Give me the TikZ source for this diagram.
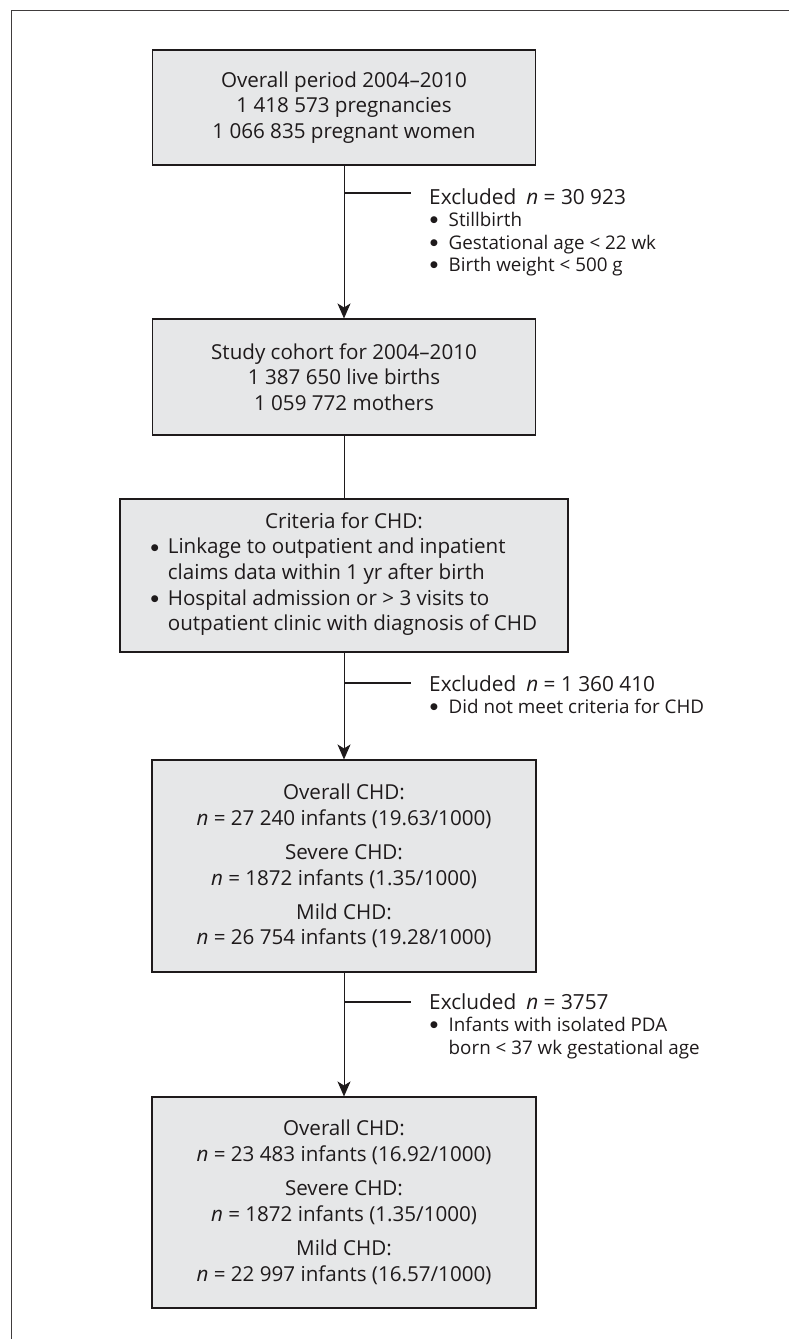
\documentclass[tikz,border=0pt]{standalone}
\usepackage{fontspec}
\setmainfont{Open Sans}
\newfontfamily\bulfont{DejaVu Sans}
\usetikzlibrary{arrows.meta,calc}
\definecolor{ink}{HTML}{1E1A1B}
\definecolor{boxfill}{HTML}{E6E7E8}
\newcommand\bul{\makebox[8pt][l]{\raisebox{3.6pt}{\bulfont\fontsize{9}{9}\selectfont ●}}}
\begin{document}
\begin{tikzpicture}[x=1pt,y=-1pt,
  box/.style={draw=ink, line width=1.1pt, fill=boxfill, text=ink, align=center, inner sep=0pt,
    font=\fontsize{20.6}{25.7}\selectfont},
  conn/.style={draw=ink, line width=1pt},
  arr/.style={conn, -{Stealth[length=15pt,width=13pt,inset=4pt]}},
  side/.style={draw=ink, line width=1.5pt},
  exhead/.style={anchor=base west, inner sep=0pt, text=ink, font=\fontsize{20.8}{25}\selectfont},
  exlist/.style={anchor=base west, inner sep=0pt, text=ink, font=\fontsize{18.8}{22.5}\selectfont}]
\useasboundingbox (0,0) rectangle (789,1339);
\draw[draw=ink!85, line width=1pt] (11,1339) -- (11,10) -- (789,10);

\node[box, minimum width=383pt, minimum height=115pt] (b1) at (344,107.5)
  {Overall period 2004–2010\\1 418 573 pregnancies\\1 066 835 pregnant women};
\node[box, minimum width=383pt, minimum height=116pt] (b2) at (344,377)
  {Study cohort for 2004–2010\\1 387 650 live births\\1 059 772 mothers};
\node[box, minimum width=448pt, minimum height=153pt] (b3) at (344,575.5)
  {Criteria for CHD:\\
   \begin{tabular}[t]{@{}l@{\hspace{9pt}}l@{}}
   \bul & Linkage to outpatient and inpatient\\
        & claims data within 1 yr after birth\\
   \bul & Hospital admission or > 3 visits to\\
        & outpatient clinic with diagnosis of CHD
   \end{tabular}};
\node[box, minimum width=384pt, minimum height=212pt] (b4) at (344,866)
  {Overall CHD:\\\textit{n} = 27 240 infants (19.63/1000)\\[8.5pt]
   Severe CHD:\\\textit{n} = 1872 infants (1.35/1000)\\[8.5pt]
   Mild CHD:\\\textit{n} = 26 754 infants (19.28/1000)};
\node[box, minimum width=384pt, minimum height=211pt] (b5) at (344,1202.5)
  {Overall CHD:\\\textit{n} = 23 483 infants (16.92/1000)\\[8.5pt]
   Severe CHD:\\\textit{n} = 1872 infants (1.35/1000)\\[8.5pt]
   Mild CHD:\\\textit{n} = 22 997 infants (16.57/1000)};

\draw[arr] (b1) -- (b2);
\draw[conn] (b2) -- (b3);
\draw[arr] (b3) -- (b4);
\draw[arr] (b4) -- (b5);

% exclusion 1
\coordinate (j1) at (344,193);
\coordinate (t1) at (411,193);
\draw[side] (j1) -- (t1);
\node[exhead] (h1) at (429,204) {Excluded\hspace{10pt}\textit{n} = 30 923};
\node[exlist] (l1) at (430,226.5) {\begin{tabular}[t]{@{}l@{\hspace{10.5pt}}l@{}}
  \bul & Stillbirth\\
  \bul & Gestational age < 22 wk\\
  \bul & Birth weight < 500 g
  \end{tabular}};

% exclusion 2
\coordinate (j2) at (344,683);
\coordinate (t2) at (411,683);
\draw[side] (j2) -- (t2);
\node[exhead] (h2) at (429,691) {Excluded\hspace{10pt}\textit{n} = 1 360 410};
\node[exlist] (l2) at (430,713.5) {\begin{tabular}[t]{@{}l@{\hspace{10.5pt}}l@{}}
  \bul & Did not meet criteria for CHD
  \end{tabular}};

% exclusion 3
\coordinate (j3) at (344,1002);
\coordinate (t3) at (411,1002);
\draw[side] (j3) -- (t3);
\node[exhead] (h3) at (429,1009) {Excluded\hspace{10pt}\textit{n} = 3757};
\node[exlist] (l3) at (430,1031.5) {\begin{tabular}[t]{@{}l@{\hspace{10.5pt}}l@{}}
  \bul & Infants with isolated PDA\\
       & born < 37 wk gestational age
  \end{tabular}};
\end{tikzpicture}
\end{document}
